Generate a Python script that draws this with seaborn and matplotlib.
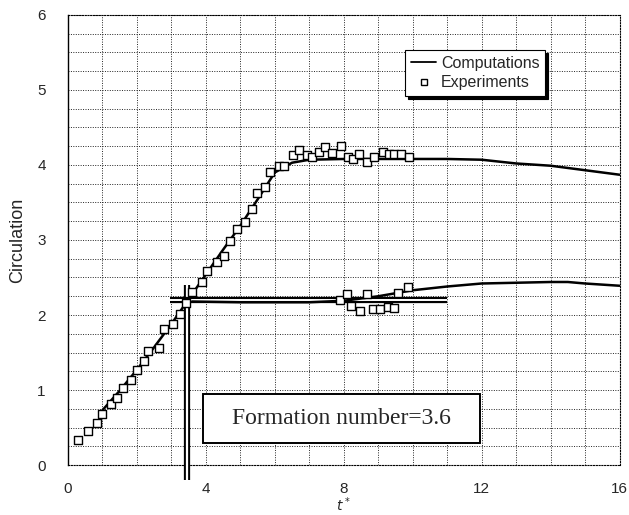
import numpy as np
import pandas as pd
import matplotlib
matplotlib.use('Agg')
import matplotlib.pyplot as plt
import seaborn as sns
from matplotlib.ticker import MultipleLocator
from matplotlib.lines import Line2D
from matplotlib.patches import Rectangle

# computations, leading vortex ring (upper branch)
comp_t = [1.0, 1.5, 2.0, 2.5, 3.0, 3.5, 4.0, 4.5, 5.0, 5.5, 6.0, 6.5, 7.0,
          8.0, 9.0, 10.0, 11.0, 12.0, 13.0, 14.0, 15.0, 16.0]
comp_g = [0.73, 0.99, 1.27, 1.57, 1.88, 2.21, 2.54, 2.87, 3.19, 3.54, 3.90, 4.03, 4.07,
          4.08, 4.08, 4.08, 4.08, 4.07, 4.02, 3.99, 3.93, 3.87]

# computations, lower branch
comp2_t = [3.6, 5.0, 6.0, 7.0, 8.0, 9.0, 10.0, 11.0, 12.0, 13.0, 14.0, 14.5, 15.0, 16.0]
comp2_g = [2.18, 2.17, 2.17, 2.17, 2.19, 2.25, 2.33, 2.38, 2.42, 2.43, 2.44, 2.44, 2.42, 2.39]

# experiments
exp_t = [0.30, 0.59, 0.85, 1.00, 1.24, 1.43, 1.59, 1.83, 2.00, 2.22, 2.31, 2.63, 2.80,
         3.05, 3.25, 3.42, 3.61, 3.90, 4.02, 4.33, 4.52, 4.70, 4.89, 5.15, 5.34, 5.48,
         5.72, 5.85, 6.13, 6.28, 6.52, 6.71, 6.93, 7.07, 7.28, 7.45, 7.67, 7.93, 8.11,
         8.27, 8.44, 8.66, 8.89, 9.14, 9.30, 9.47, 9.66, 9.88,
         7.90, 8.08, 8.22, 8.46, 8.66, 8.85, 9.04, 9.28, 9.47, 9.57, 9.86]
exp_g = [0.34, 0.45, 0.56, 0.68, 0.81, 0.90, 1.03, 1.14, 1.27, 1.39, 1.52, 1.56, 1.81,
         1.88, 2.02, 2.16, 2.31, 2.44, 2.59, 2.70, 2.79, 2.99, 3.15, 3.24, 3.41, 3.62,
         3.70, 3.90, 3.98, 3.99, 4.13, 4.20, 4.13, 4.11, 4.17, 4.24, 4.16, 4.25, 4.10,
         4.08, 4.14, 4.04, 4.10, 4.17, 4.15, 4.15, 4.15, 4.11,
         2.20, 2.28, 2.12, 2.06, 2.28, 2.08, 2.08, 2.11, 2.09, 2.30, 2.38]

formation_number = 3.45
pinch_level = 2.2

sns.set_style('white')
plt.rcParams['font.family'] = ['Liberation Sans', 'DejaVu Sans']

fig = plt.figure(figsize=(6.29, 5.15), dpi=100)
ax = fig.add_axes([0.108, 0.097, 0.877, 0.874])

ax.set_xlim(0, 16)
ax.set_ylim(0, 6)
ax.xaxis.set_major_locator(MultipleLocator(4))
ax.xaxis.set_minor_locator(MultipleLocator(1))
ax.yaxis.set_major_locator(MultipleLocator(1))
ax.yaxis.set_minor_locator(MultipleLocator(0.25))
ax.grid(True, which='both', linestyle=(0, (1, 1.5)), color='#222222', linewidth=0.7)
ax.set_axisbelow(True)
ax.tick_params(which='both', length=0, labelsize=11)
ax.tick_params(axis='y', pad=16)
ax.tick_params(axis='x', pad=12)

for side in ['top', 'right', 'bottom']:
    ax.spines[side].set_linestyle((0, (1, 1.5)))
    ax.spines[side].set_linewidth(0.8)
    ax.spines[side].set_color('black')
ax.spines['left'].set_color('black')
ax.spines['left'].set_linewidth(1.0)

# double lines marking the formation number
ax.plot([formation_number, formation_number], [-0.2, 2.4], color='black', lw=4.5,
        clip_on=False, zorder=3, solid_capstyle='butt')
ax.plot([formation_number, formation_number], [-0.2, 2.4], color='white', lw=1.6,
        clip_on=False, zorder=3, solid_capstyle='butt')
ax.plot([2.95, 11.0], [pinch_level, pinch_level], color='black', lw=4.5, zorder=3,
        solid_capstyle='butt')
ax.plot([2.95, 11.0], [pinch_level, pinch_level], color='white', lw=1.4, zorder=3,
        solid_capstyle='butt')

sns.lineplot(x=comp_t, y=comp_g, color='black', lw=1.8, ax=ax, zorder=4)
sns.lineplot(x=comp2_t, y=comp2_g, color='black', lw=1.8, ax=ax, zorder=4)
sns.scatterplot(x=exp_t, y=exp_g, marker='s', s=38, facecolor='white',
                edgecolor='black', linewidth=1.0, ax=ax, zorder=5)

handles = [Line2D([], [], color='black', lw=1.3),
           Line2D([], [], marker='s', ls='', markersize=4.5, markerfacecolor='white',
                  markeredgecolor='black')]
leg = ax.legend(handles, ['Computations', 'Experiments'], loc='upper left',
                bbox_to_anchor=(0.597, 0.94), frameon=True, fancybox=False,
                edgecolor='black', framealpha=1, fontsize=11.5, handlelength=1.6,
                handletextpad=0.3, borderpad=0.35, labelspacing=0.3,
                shadow={'color': 'black', 'alpha': 1, 'ox': 2, 'oy': -2})
leg.get_frame().set_linewidth(0.8)

# annotation box
ax.add_patch(Rectangle((3.92, 0.29), 8.04, 0.66, facecolor='white', edgecolor='black',
                       linewidth=1.4, zorder=6))
ax.text(7.94, 0.62, 'Formation number=3.6', ha='center', va='center',
        fontsize=17, family=['Liberation Serif', 'DejaVu Serif'], zorder=7)

ax.set_ylabel('Circulation', fontsize=13, labelpad=8)
ax.set_xlabel('$t^*$', fontsize=10, labelpad=0)

fig.savefig('out.png', dpi=100)
